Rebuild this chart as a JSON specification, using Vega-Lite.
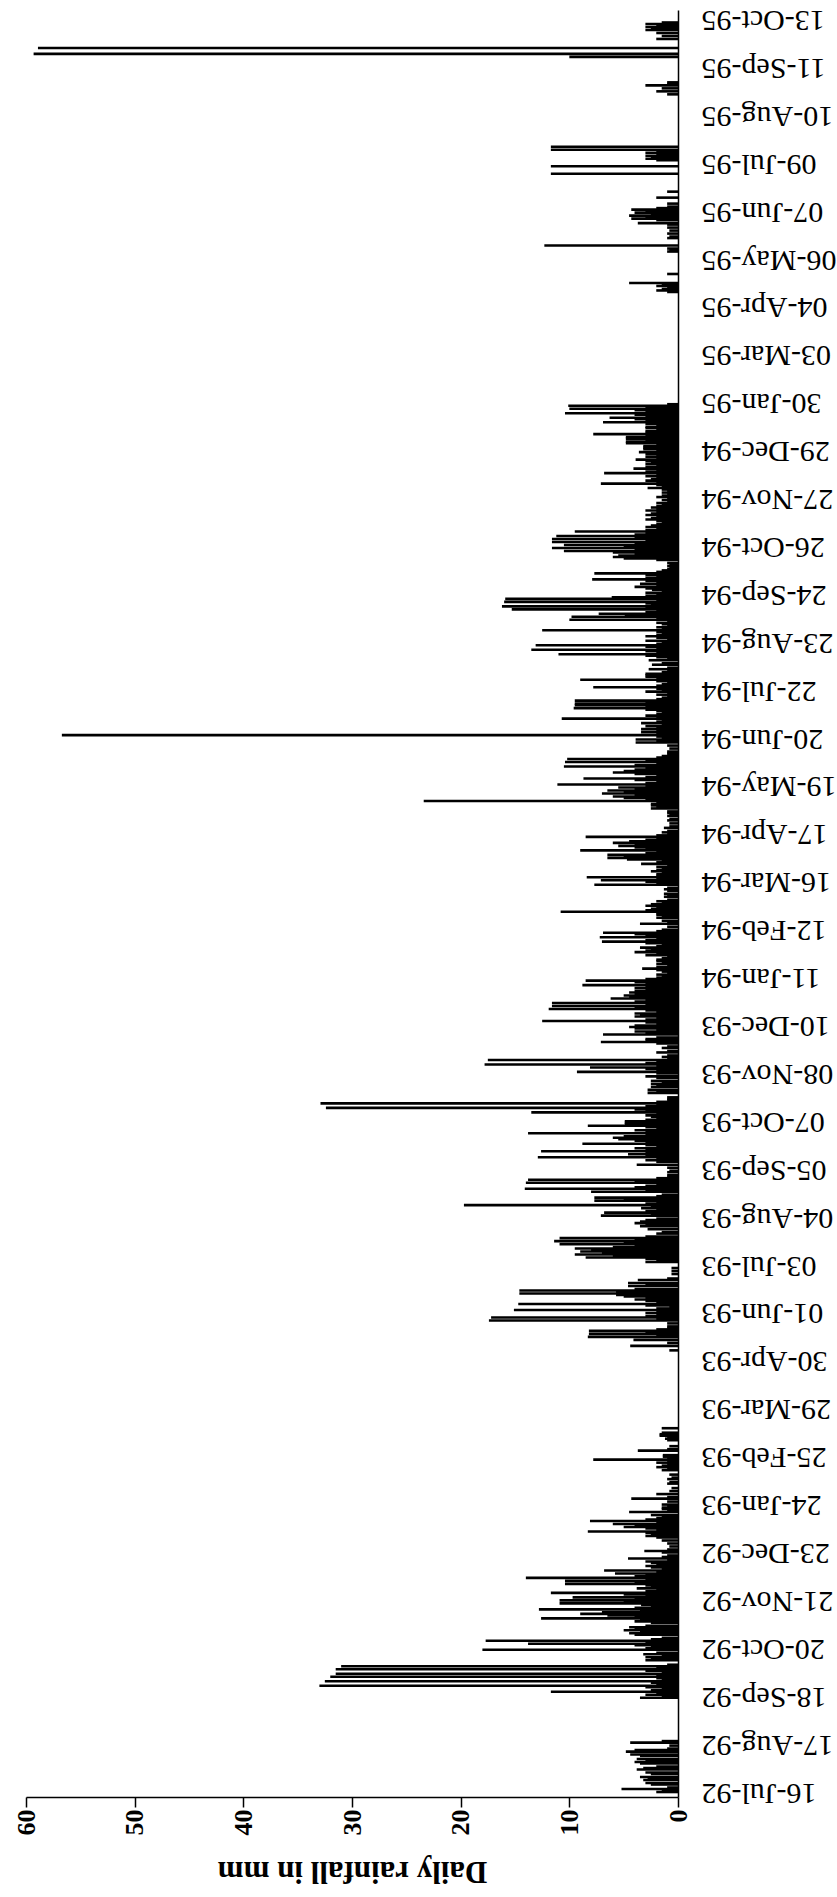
{
"$schema":"https://vega.github.io/schema/vega-lite/v6.json",
"width":652,"height":1787,
"autosize":{"type":"none"},
"padding":{"left":26,"top":10,"right":159,"bottom":100},
"background":"white",
"config":{"view":{"stroke":null},"font":"Liberation Serif"},
"data":{"values":[
{"date":"1992-07-16","rain":2.0},{"date":"1992-07-17","rain":1.5},{"date":"1992-07-18","rain":5.2},{"date":"1992-07-19","rain":1.0},{"date":"1992-07-21","rain":2.5},{"date":"1992-07-22","rain":3.0},{"date":"1992-07-24","rain":3.2},{"date":"1992-07-25","rain":2.8},{"date":"1992-07-26","rain":3.5},{"date":"1992-07-28","rain":2.5},{"date":"1992-07-29","rain":3.0},{"date":"1992-07-31","rain":3.8},
{"date":"1992-08-01","rain":3.2},{"date":"1992-08-02","rain":2.0},{"date":"1992-08-04","rain":3.5},{"date":"1992-08-05","rain":4.0},{"date":"1992-08-06","rain":3.0},{"date":"1992-08-07","rain":3.8},{"date":"1992-08-09","rain":3.5},{"date":"1992-08-10","rain":4.4},{"date":"1992-08-12","rain":4.8},{"date":"1992-08-13","rain":4.0},{"date":"1992-08-14","rain":1.0},{"date":"1992-08-16","rain":0.8},{"date":"1992-08-18","rain":4.4},{"date":"1992-08-19","rain":1.5},
{"date":"1992-09-17","rain":3.5},{"date":"1992-09-18","rain":1.5},{"date":"1992-09-19","rain":3.0},{"date":"1992-09-20","rain":2.0},{"date":"1992-09-21","rain":11.7},{"date":"1992-09-22","rain":2.5},{"date":"1992-09-23","rain":1.5},{"date":"1992-09-24","rain":3.0},{"date":"1992-09-25","rain":33.0},{"date":"1992-09-26","rain":2.0},{"date":"1992-09-27","rain":2.5},{"date":"1992-09-28","rain":32.5},{"date":"1992-09-29","rain":1.5},{"date":"1992-09-30","rain":2.0},
{"date":"1992-10-01","rain":32.0},{"date":"1992-10-02","rain":2.0},{"date":"1992-10-03","rain":31.5},{"date":"1992-10-04","rain":1.5},{"date":"1992-10-05","rain":3.0},{"date":"1992-10-06","rain":31.5},{"date":"1992-10-07","rain":2.0},{"date":"1992-10-08","rain":31.0},{"date":"1992-10-09","rain":1.0},{"date":"1992-10-12","rain":3.0},{"date":"1992-10-13","rain":2.5},{"date":"1992-10-14","rain":3.0},{"date":"1992-10-15","rain":1.5},{"date":"1992-10-16","rain":3.2},{"date":"1992-10-17","rain":2.0},{"date":"1992-10-19","rain":18.0},{"date":"1992-10-20","rain":3.0},{"date":"1992-10-21","rain":2.5},{"date":"1992-10-22","rain":4.0},{"date":"1992-10-23","rain":13.8},{"date":"1992-10-24","rain":3.0},{"date":"1992-10-25","rain":17.7},{"date":"1992-10-26","rain":2.5},{"date":"1992-10-27","rain":1.5},{"date":"1992-10-29","rain":4.0},{"date":"1992-10-30","rain":4.5},{"date":"1992-10-31","rain":3.5},
{"date":"1992-11-01","rain":5.0},{"date":"1992-11-02","rain":4.0},{"date":"1992-11-03","rain":4.5},{"date":"1992-11-04","rain":3.0},{"date":"1992-11-06","rain":2.5},{"date":"1992-11-07","rain":4.0},{"date":"1992-11-08","rain":3.5},{"date":"1992-11-09","rain":12.6},{"date":"1992-11-10","rain":4.0},{"date":"1992-11-11","rain":6.5},{"date":"1992-11-12","rain":9.0},{"date":"1992-11-13","rain":7.0},{"date":"1992-11-14","rain":3.5},{"date":"1992-11-15","rain":12.8},{"date":"1992-11-16","rain":4.0},{"date":"1992-11-17","rain":2.5},{"date":"1992-11-18","rain":3.4},{"date":"1992-11-19","rain":10.9},{"date":"1992-11-20","rain":5.0},{"date":"1992-11-21","rain":10.9},{"date":"1992-11-22","rain":4.0},{"date":"1992-11-23","rain":9.7},{"date":"1992-11-24","rain":3.0},{"date":"1992-11-25","rain":5.0},{"date":"1992-11-26","rain":11.7},{"date":"1992-11-27","rain":3.0},{"date":"1992-11-28","rain":2.0},{"date":"1992-11-29","rain":3.8},{"date":"1992-11-30","rain":2.5},
{"date":"1992-12-01","rain":3.0},{"date":"1992-12-02","rain":10.4},{"date":"1992-12-03","rain":4.0},{"date":"1992-12-04","rain":10.4},{"date":"1992-12-05","rain":3.0},{"date":"1992-12-06","rain":14.0},{"date":"1992-12-07","rain":4.0},{"date":"1992-12-08","rain":3.0},{"date":"1992-12-09","rain":5.8},{"date":"1992-12-10","rain":2.0},{"date":"1992-12-11","rain":6.8},{"date":"1992-12-12","rain":1.5},{"date":"1992-12-13","rain":2.5},{"date":"1992-12-14","rain":3.0},{"date":"1992-12-15","rain":2.0},{"date":"1992-12-16","rain":2.5},{"date":"1992-12-17","rain":3.0},{"date":"1992-12-18","rain":1.0},{"date":"1992-12-19","rain":4.6},{"date":"1992-12-20","rain":1.5},{"date":"1992-12-21","rain":1.0},{"date":"1992-12-23","rain":1.5},{"date":"1992-12-24","rain":3.1},{"date":"1992-12-25","rain":1.0},{"date":"1992-12-27","rain":0.8},{"date":"1992-12-29","rain":1.0},{"date":"1992-12-31","rain":1.5},
{"date":"1993-01-02","rain":2.0},{"date":"1993-01-03","rain":3.0},{"date":"1993-01-04","rain":2.5},{"date":"1993-01-05","rain":3.0},{"date":"1993-01-06","rain":8.3},{"date":"1993-01-07","rain":2.0},{"date":"1993-01-08","rain":3.0},{"date":"1993-01-09","rain":5.0},{"date":"1993-01-10","rain":4.0},{"date":"1993-01-11","rain":6.0},{"date":"1993-01-12","rain":2.0},{"date":"1993-01-13","rain":8.1},{"date":"1993-01-14","rain":3.0},{"date":"1993-01-15","rain":2.0},{"date":"1993-01-16","rain":1.5},{"date":"1993-01-17","rain":2.5},{"date":"1993-01-19","rain":4.5},{"date":"1993-01-20","rain":1.0},{"date":"1993-01-21","rain":1.5},{"date":"1993-01-22","rain":1.5},{"date":"1993-01-23","rain":1.0},{"date":"1993-01-24","rain":1.5},{"date":"1993-01-26","rain":1.0},{"date":"1993-01-28","rain":4.3},{"date":"1993-01-29","rain":1.0},{"date":"1993-01-31","rain":2.0},
{"date":"1993-02-02","rain":0.8},{"date":"1993-02-04","rain":0.6},{"date":"1993-02-07","rain":1.0},{"date":"1993-02-08","rain":0.8},{"date":"1993-02-10","rain":1.0},{"date":"1993-02-11","rain":0.6},{"date":"1993-02-13","rain":0.8},{"date":"1993-02-16","rain":1.5},{"date":"1993-02-17","rain":1.0},{"date":"1993-02-18","rain":2.0},{"date":"1993-02-19","rain":1.5},{"date":"1993-02-20","rain":1.0},{"date":"1993-02-21","rain":2.0},{"date":"1993-02-22","rain":1.0},{"date":"1993-02-23","rain":7.8},{"date":"1993-02-24","rain":1.0},{"date":"1993-02-25","rain":1.4},{"date":"1993-02-26","rain":1.4},
{"date":"1993-03-01","rain":3.7},{"date":"1993-03-02","rain":1.0},{"date":"1993-03-04","rain":0.8},{"date":"1993-03-08","rain":1.0},{"date":"1993-03-09","rain":1.2},{"date":"1993-03-10","rain":1.0},{"date":"1993-03-11","rain":1.7},{"date":"1993-03-12","rain":1.7},{"date":"1993-03-13","rain":1.5},{"date":"1993-03-16","rain":1.5},
{"date":"1993-05-07","rain":0.8},{"date":"1993-05-10","rain":4.4},{"date":"1993-05-12","rain":1.0},{"date":"1993-05-14","rain":4.1},{"date":"1993-05-16","rain":8.3},{"date":"1993-05-17","rain":2.0},{"date":"1993-05-18","rain":8.2},{"date":"1993-05-19","rain":3.0},{"date":"1993-05-20","rain":8.2},{"date":"1993-05-21","rain":2.0},{"date":"1993-05-22","rain":1.0},{"date":"1993-05-23","rain":1.0},{"date":"1993-05-25","rain":1.0},{"date":"1993-05-27","rain":17.4},{"date":"1993-05-28","rain":2.0},{"date":"1993-05-29","rain":17.2},{"date":"1993-05-30","rain":3.0},{"date":"1993-05-31","rain":2.0},
{"date":"1993-06-01","rain":3.0},{"date":"1993-06-02","rain":2.0},{"date":"1993-06-03","rain":15.1},{"date":"1993-06-04","rain":2.0},{"date":"1993-06-05","rain":0.8},{"date":"1993-06-06","rain":3.0},{"date":"1993-06-07","rain":14.7},{"date":"1993-06-08","rain":2.0},{"date":"1993-06-09","rain":3.0},{"date":"1993-06-10","rain":4.0},{"date":"1993-06-11","rain":3.0},{"date":"1993-06-12","rain":5.0},{"date":"1993-06-13","rain":5.7},{"date":"1993-06-14","rain":14.6},{"date":"1993-06-15","rain":5.7},{"date":"1993-06-16","rain":14.6},{"date":"1993-06-17","rain":4.0},{"date":"1993-06-19","rain":4.6},{"date":"1993-06-20","rain":3.0},{"date":"1993-06-21","rain":4.6},{"date":"1993-06-23","rain":3.7},{"date":"1993-06-24","rain":1.0},{"date":"1993-06-27","rain":0.6},{"date":"1993-06-29","rain":0.6},
{"date":"1993-07-01","rain":0.6},{"date":"1993-07-05","rain":3.0},{"date":"1993-07-06","rain":2.0},{"date":"1993-07-07","rain":3.0},{"date":"1993-07-08","rain":8.5},{"date":"1993-07-09","rain":6.0},{"date":"1993-07-10","rain":9.5},{"date":"1993-07-11","rain":7.0},{"date":"1993-07-12","rain":9.0},{"date":"1993-07-13","rain":8.0},{"date":"1993-07-14","rain":9.5},{"date":"1993-07-15","rain":6.0},{"date":"1993-07-16","rain":4.0},{"date":"1993-07-17","rain":10.9},{"date":"1993-07-18","rain":5.0},{"date":"1993-07-19","rain":11.4},{"date":"1993-07-20","rain":4.0},{"date":"1993-07-21","rain":10.9},{"date":"1993-07-22","rain":3.0},{"date":"1993-07-24","rain":2.0},{"date":"1993-07-25","rain":1.5},{"date":"1993-07-27","rain":2.8},{"date":"1993-07-29","rain":3.5},{"date":"1993-07-30","rain":3.0},{"date":"1993-07-31","rain":4.0},
{"date":"1993-08-01","rain":3.5},{"date":"1993-08-02","rain":3.0},{"date":"1993-08-03","rain":2.0},{"date":"1993-08-05","rain":7.1},{"date":"1993-08-06","rain":2.5},{"date":"1993-08-07","rain":6.8},{"date":"1993-08-08","rain":3.0},{"date":"1993-08-09","rain":2.0},{"date":"1993-08-10","rain":3.4},{"date":"1993-08-11","rain":2.5},{"date":"1993-08-12","rain":19.7},{"date":"1993-08-13","rain":3.0},{"date":"1993-08-14","rain":2.0},{"date":"1993-08-15","rain":7.7},{"date":"1993-08-16","rain":5.0},{"date":"1993-08-17","rain":7.7},{"date":"1993-08-18","rain":2.0},{"date":"1993-08-19","rain":1.5},{"date":"1993-08-21","rain":8.0},{"date":"1993-08-22","rain":3.0},{"date":"1993-08-23","rain":14.1},{"date":"1993-08-24","rain":4.0},{"date":"1993-08-25","rain":3.0},{"date":"1993-08-26","rain":2.0},{"date":"1993-08-27","rain":14.0},{"date":"1993-08-28","rain":4.0},{"date":"1993-08-29","rain":13.8},{"date":"1993-08-30","rain":2.0},{"date":"1993-08-31","rain":1.0},
{"date":"1993-09-01","rain":1.0},{"date":"1993-09-03","rain":1.0},{"date":"1993-09-04","rain":0.8},{"date":"1993-09-06","rain":1.0},{"date":"1993-09-08","rain":3.8},{"date":"1993-09-10","rain":2.0},{"date":"1993-09-11","rain":3.0},{"date":"1993-09-12","rain":2.0},{"date":"1993-09-13","rain":12.9},{"date":"1993-09-14","rain":3.0},{"date":"1993-09-15","rain":4.6},{"date":"1993-09-16","rain":3.0},{"date":"1993-09-17","rain":12.6},{"date":"1993-09-18","rain":3.0},{"date":"1993-09-19","rain":4.0},{"date":"1993-09-20","rain":2.0},{"date":"1993-09-21","rain":3.0},{"date":"1993-09-22","rain":8.8},{"date":"1993-09-23","rain":3.0},{"date":"1993-09-24","rain":4.0},{"date":"1993-09-25","rain":5.5},{"date":"1993-09-26","rain":6.0},{"date":"1993-09-27","rain":5.0},{"date":"1993-09-28","rain":3.0},{"date":"1993-09-29","rain":13.8},{"date":"1993-09-30","rain":3.0},
{"date":"1993-10-01","rain":4.0},{"date":"1993-10-02","rain":2.0},{"date":"1993-10-03","rain":3.0},{"date":"1993-10-04","rain":8.3},{"date":"1993-10-05","rain":4.9},{"date":"1993-10-06","rain":4.9},{"date":"1993-10-07","rain":4.9},{"date":"1993-10-08","rain":3.0},{"date":"1993-10-09","rain":2.0},{"date":"1993-10-10","rain":2.5},{"date":"1993-10-11","rain":3.0},{"date":"1993-10-12","rain":2.0},{"date":"1993-10-13","rain":13.5},{"date":"1993-10-14","rain":3.0},{"date":"1993-10-15","rain":4.0},{"date":"1993-10-16","rain":32.4},{"date":"1993-10-17","rain":3.0},{"date":"1993-10-18","rain":2.0},{"date":"1993-10-19","rain":32.9},{"date":"1993-10-20","rain":2.0},{"date":"1993-10-21","rain":1.0},{"date":"1993-10-22","rain":1.0},{"date":"1993-10-23","rain":1.0},{"date":"1993-10-26","rain":2.8},{"date":"1993-10-27","rain":2.0},{"date":"1993-10-28","rain":2.8},{"date":"1993-10-30","rain":2.5},{"date":"1993-10-31","rain":2.0},
{"date":"1993-11-01","rain":2.5},{"date":"1993-11-02","rain":1.5},{"date":"1993-11-03","rain":2.5},{"date":"1993-11-05","rain":2.0},{"date":"1993-11-06","rain":3.0},{"date":"1993-11-08","rain":2.0},{"date":"1993-11-09","rain":9.3},{"date":"1993-11-10","rain":2.0},{"date":"1993-11-11","rain":3.0},{"date":"1993-11-12","rain":8.1},{"date":"1993-11-13","rain":2.0},{"date":"1993-11-14","rain":17.8},{"date":"1993-11-15","rain":3.0},{"date":"1993-11-16","rain":2.0},{"date":"1993-11-17","rain":17.5},{"date":"1993-11-18","rain":1.0},{"date":"1993-11-19","rain":1.5},{"date":"1993-11-20","rain":1.0},{"date":"1993-11-22","rain":2.0},{"date":"1993-11-23","rain":1.0},{"date":"1993-11-25","rain":1.5},{"date":"1993-11-26","rain":1.0},{"date":"1993-11-28","rain":2.0},{"date":"1993-11-29","rain":7.1},{"date":"1993-11-30","rain":3.0},
{"date":"1993-12-01","rain":3.0},{"date":"1993-12-02","rain":2.0},{"date":"1993-12-04","rain":6.9},{"date":"1993-12-05","rain":3.0},{"date":"1993-12-06","rain":4.0},{"date":"1993-12-07","rain":2.0},{"date":"1993-12-08","rain":4.0},{"date":"1993-12-09","rain":4.5},{"date":"1993-12-10","rain":4.0},{"date":"1993-12-11","rain":2.0},{"date":"1993-12-12","rain":3.0},{"date":"1993-12-13","rain":12.5},{"date":"1993-12-14","rain":3.0},{"date":"1993-12-15","rain":2.0},{"date":"1993-12-16","rain":4.0},{"date":"1993-12-17","rain":3.5},{"date":"1993-12-18","rain":4.0},{"date":"1993-12-19","rain":2.0},{"date":"1993-12-20","rain":3.0},{"date":"1993-12-21","rain":11.9},{"date":"1993-12-22","rain":4.0},{"date":"1993-12-23","rain":11.6},{"date":"1993-12-24","rain":3.0},{"date":"1993-12-25","rain":11.6},{"date":"1993-12-26","rain":4.0},{"date":"1993-12-27","rain":3.0},{"date":"1993-12-28","rain":6.2},{"date":"1993-12-29","rain":4.5},{"date":"1993-12-30","rain":5.0},{"date":"1993-12-31","rain":4.0},
{"date":"1994-01-01","rain":4.5},{"date":"1994-01-02","rain":4.0},{"date":"1994-01-03","rain":3.0},{"date":"1994-01-04","rain":4.0},{"date":"1994-01-05","rain":3.0},{"date":"1994-01-06","rain":8.8},{"date":"1994-01-07","rain":3.0},{"date":"1994-01-08","rain":4.0},{"date":"1994-01-09","rain":8.5},{"date":"1994-01-10","rain":3.0},{"date":"1994-01-11","rain":2.0},{"date":"1994-01-12","rain":1.5},{"date":"1994-01-13","rain":2.0},{"date":"1994-01-14","rain":1.0},{"date":"1994-01-15","rain":1.5},{"date":"1994-01-16","rain":2.0},{"date":"1994-01-17","rain":3.3},{"date":"1994-01-18","rain":2.0},{"date":"1994-01-19","rain":1.0},{"date":"1994-01-20","rain":2.0},{"date":"1994-01-21","rain":1.5},{"date":"1994-01-22","rain":2.0},{"date":"1994-01-23","rain":2.0},{"date":"1994-01-24","rain":1.5},{"date":"1994-01-25","rain":1.0},{"date":"1994-01-26","rain":3.0},{"date":"1994-01-27","rain":2.0},{"date":"1994-01-28","rain":4.0},{"date":"1994-01-29","rain":3.0},{"date":"1994-01-30","rain":2.5},{"date":"1994-01-31","rain":3.5},
{"date":"1994-02-01","rain":2.0},{"date":"1994-02-02","rain":1.5},{"date":"1994-02-03","rain":3.0},{"date":"1994-02-04","rain":7.0},{"date":"1994-02-05","rain":3.0},{"date":"1994-02-06","rain":2.0},{"date":"1994-02-07","rain":7.2},{"date":"1994-02-08","rain":3.0},{"date":"1994-02-09","rain":4.0},{"date":"1994-02-10","rain":6.9},{"date":"1994-02-11","rain":2.0},{"date":"1994-02-12","rain":1.5},{"date":"1994-02-14","rain":1.0},{"date":"1994-02-16","rain":3.5},{"date":"1994-02-17","rain":1.0},{"date":"1994-02-18","rain":1.5},{"date":"1994-02-20","rain":2.0},{"date":"1994-02-21","rain":1.5},{"date":"1994-02-22","rain":2.0},{"date":"1994-02-23","rain":2.0},{"date":"1994-02-24","rain":10.8},{"date":"1994-02-25","rain":3.0},{"date":"1994-02-26","rain":2.5},{"date":"1994-02-27","rain":2.0},{"date":"1994-02-28","rain":3.0},
{"date":"1994-03-01","rain":2.5},{"date":"1994-03-02","rain":1.5},{"date":"1994-03-03","rain":2.0},{"date":"1994-03-04","rain":1.0},{"date":"1994-03-06","rain":1.3},{"date":"1994-03-07","rain":1.0},{"date":"1994-03-08","rain":1.3},{"date":"1994-03-10","rain":1.0},{"date":"1994-03-11","rain":1.3},{"date":"1994-03-12","rain":1.0},{"date":"1994-03-14","rain":7.7},{"date":"1994-03-15","rain":2.0},{"date":"1994-03-16","rain":3.0},{"date":"1994-03-17","rain":7.1},{"date":"1994-03-18","rain":2.0},{"date":"1994-03-19","rain":8.4},{"date":"1994-03-20","rain":2.0},{"date":"1994-03-21","rain":2.0},{"date":"1994-03-22","rain":1.5},{"date":"1994-03-23","rain":2.5},{"date":"1994-03-24","rain":2.0},{"date":"1994-03-25","rain":1.5},{"date":"1994-03-26","rain":2.0},{"date":"1994-03-27","rain":1.0},{"date":"1994-03-28","rain":3.4},{"date":"1994-03-29","rain":2.0},{"date":"1994-03-30","rain":1.5},{"date":"1994-03-31","rain":4.7},
{"date":"1994-04-01","rain":6.5},{"date":"1994-04-02","rain":5.0},{"date":"1994-04-03","rain":6.5},{"date":"1994-04-04","rain":3.0},{"date":"1994-04-05","rain":2.0},{"date":"1994-04-06","rain":9.0},{"date":"1994-04-07","rain":3.0},{"date":"1994-04-08","rain":4.0},{"date":"1994-04-09","rain":5.5},{"date":"1994-04-10","rain":4.0},{"date":"1994-04-11","rain":6.0},{"date":"1994-04-12","rain":4.5},{"date":"1994-04-13","rain":3.0},{"date":"1994-04-14","rain":2.0},{"date":"1994-04-15","rain":8.5},{"date":"1994-04-16","rain":2.0},{"date":"1994-04-17","rain":1.0},{"date":"1994-04-18","rain":1.5},{"date":"1994-04-19","rain":1.0},{"date":"1994-04-21","rain":1.3},{"date":"1994-04-22","rain":0.8},{"date":"1994-04-24","rain":0.8},{"date":"1994-04-26","rain":1.0},{"date":"1994-04-27","rain":0.8},{"date":"1994-04-29","rain":1.0},{"date":"1994-04-30","rain":0.8},
{"date":"1994-05-01","rain":1.0},{"date":"1994-05-02","rain":1.0},{"date":"1994-05-04","rain":2.5},{"date":"1994-05-05","rain":2.0},{"date":"1994-05-06","rain":2.5},{"date":"1994-05-07","rain":2.5},{"date":"1994-05-08","rain":2.0},{"date":"1994-05-09","rain":23.4},{"date":"1994-05-10","rain":3.0},{"date":"1994-05-11","rain":5.0},{"date":"1994-05-12","rain":6.0},{"date":"1994-05-13","rain":4.0},{"date":"1994-05-14","rain":7.0},{"date":"1994-05-15","rain":5.0},{"date":"1994-05-16","rain":6.5},{"date":"1994-05-17","rain":4.0},{"date":"1994-05-18","rain":5.5},{"date":"1994-05-19","rain":3.0},{"date":"1994-05-20","rain":11.1},{"date":"1994-05-21","rain":3.0},{"date":"1994-05-22","rain":2.0},{"date":"1994-05-23","rain":4.0},{"date":"1994-05-24","rain":8.7},{"date":"1994-05-25","rain":3.0},{"date":"1994-05-26","rain":2.0},{"date":"1994-05-27","rain":4.0},{"date":"1994-05-28","rain":6.0},{"date":"1994-05-29","rain":5.0},{"date":"1994-05-30","rain":4.0},{"date":"1994-05-31","rain":3.0},
{"date":"1994-06-01","rain":10.5},{"date":"1994-06-02","rain":4.0},{"date":"1994-06-03","rain":2.0},{"date":"1994-06-04","rain":10.4},{"date":"1994-06-05","rain":3.0},{"date":"1994-06-06","rain":10.2},{"date":"1994-06-07","rain":2.0},{"date":"1994-06-08","rain":1.5},{"date":"1994-06-09","rain":1.0},{"date":"1994-06-10","rain":1.0},{"date":"1994-06-11","rain":1.0},{"date":"1994-06-13","rain":0.8},{"date":"1994-06-15","rain":1.0},{"date":"1994-06-17","rain":3.9},{"date":"1994-06-18","rain":2.0},{"date":"1994-06-19","rain":3.9},{"date":"1994-06-20","rain":1.5},{"date":"1994-06-21","rain":2.0},{"date":"1994-06-22","rain":56.7},{"date":"1994-06-23","rain":2.0},{"date":"1994-06-24","rain":3.4},{"date":"1994-06-25","rain":2.0},{"date":"1994-06-26","rain":3.4},{"date":"1994-06-27","rain":2.0},{"date":"1994-06-28","rain":3.0},{"date":"1994-06-29","rain":1.5},{"date":"1994-06-30","rain":3.4},
{"date":"1994-07-01","rain":2.0},{"date":"1994-07-02","rain":1.5},{"date":"1994-07-03","rain":10.7},{"date":"1994-07-04","rain":2.0},{"date":"1994-07-05","rain":3.0},{"date":"1994-07-06","rain":2.0},{"date":"1994-07-07","rain":1.5},{"date":"1994-07-08","rain":2.0},{"date":"1994-07-09","rain":3.0},{"date":"1994-07-10","rain":9.6},{"date":"1994-07-11","rain":3.0},{"date":"1994-07-12","rain":9.5},{"date":"1994-07-13","rain":9.5},{"date":"1994-07-14","rain":3.0},{"date":"1994-07-15","rain":9.5},{"date":"1994-07-16","rain":2.0},{"date":"1994-07-17","rain":1.5},{"date":"1994-07-18","rain":1.0},{"date":"1994-07-19","rain":2.0},{"date":"1994-07-20","rain":1.0},{"date":"1994-07-21","rain":3.0},{"date":"1994-07-22","rain":1.5},{"date":"1994-07-23","rain":2.0},{"date":"1994-07-24","rain":7.8},{"date":"1994-07-25","rain":2.0},{"date":"1994-07-26","rain":1.5},{"date":"1994-07-27","rain":1.0},{"date":"1994-07-28","rain":2.0},{"date":"1994-07-29","rain":9.0},{"date":"1994-07-30","rain":2.0},{"date":"1994-07-31","rain":3.0},
{"date":"1994-08-01","rain":3.0},{"date":"1994-08-02","rain":3.0},{"date":"1994-08-03","rain":1.5},{"date":"1994-08-04","rain":1.0},{"date":"1994-08-05","rain":2.7},{"date":"1994-08-06","rain":1.0},{"date":"1994-08-08","rain":2.4},{"date":"1994-08-09","rain":1.5},{"date":"1994-08-11","rain":2.7},{"date":"1994-08-12","rain":1.0},{"date":"1994-08-13","rain":2.0},{"date":"1994-08-14","rain":3.0},{"date":"1994-08-15","rain":11.0},{"date":"1994-08-16","rain":2.0},{"date":"1994-08-17","rain":3.0},{"date":"1994-08-18","rain":13.5},{"date":"1994-08-19","rain":2.0},{"date":"1994-08-20","rain":3.0},{"date":"1994-08-21","rain":13.1},{"date":"1994-08-22","rain":2.0},{"date":"1994-08-23","rain":1.5},{"date":"1994-08-24","rain":3.0},{"date":"1994-08-25","rain":1.0},{"date":"1994-08-26","rain":2.0},{"date":"1994-08-27","rain":3.0},{"date":"1994-08-28","rain":2.0},{"date":"1994-08-29","rain":1.5},{"date":"1994-08-30","rain":2.0},{"date":"1994-08-31","rain":12.5},
{"date":"1994-09-01","rain":1.5},{"date":"1994-09-02","rain":2.0},{"date":"1994-09-03","rain":1.0},{"date":"1994-09-04","rain":1.5},{"date":"1994-09-05","rain":2.0},{"date":"1994-09-06","rain":1.0},{"date":"1994-09-07","rain":10.0},{"date":"1994-09-08","rain":2.0},{"date":"1994-09-09","rain":9.8},{"date":"1994-09-10","rain":4.9},{"date":"1994-09-11","rain":7.3},{"date":"1994-09-12","rain":3.0},{"date":"1994-09-13","rain":2.0},{"date":"1994-09-14","rain":15.3},{"date":"1994-09-15","rain":3.0},{"date":"1994-09-16","rain":16.2},{"date":"1994-09-17","rain":2.5},{"date":"1994-09-18","rain":3.0},{"date":"1994-09-19","rain":16.0},{"date":"1994-09-20","rain":2.0},{"date":"1994-09-21","rain":15.9},{"date":"1994-09-22","rain":6.1},{"date":"1994-09-23","rain":3.0},{"date":"1994-09-24","rain":2.0},{"date":"1994-09-25","rain":3.0},{"date":"1994-09-26","rain":1.5},{"date":"1994-09-27","rain":2.4},{"date":"1994-09-28","rain":3.0},{"date":"1994-09-29","rain":4.0},{"date":"1994-09-30","rain":2.0},
{"date":"1994-10-01","rain":3.5},{"date":"1994-10-02","rain":2.0},{"date":"1994-10-03","rain":3.0},{"date":"1994-10-04","rain":7.9},{"date":"1994-10-05","rain":3.0},{"date":"1994-10-06","rain":2.0},{"date":"1994-10-07","rain":3.0},{"date":"1994-10-08","rain":7.7},{"date":"1994-10-09","rain":2.0},{"date":"1994-10-10","rain":1.5},{"date":"1994-10-11","rain":1.0},{"date":"1994-10-12","rain":0.8},{"date":"1994-10-13","rain":1.0},{"date":"1994-10-14","rain":0.8},{"date":"1994-10-15","rain":1.0},{"date":"1994-10-17","rain":2.0},{"date":"1994-10-18","rain":5.0},{"date":"1994-10-19","rain":6.0},{"date":"1994-10-20","rain":5.5},{"date":"1994-10-21","rain":4.0},{"date":"1994-10-22","rain":6.0},{"date":"1994-10-23","rain":10.5},{"date":"1994-10-24","rain":4.0},{"date":"1994-10-25","rain":11.6},{"date":"1994-10-26","rain":5.0},{"date":"1994-10-27","rain":10.5},{"date":"1994-10-28","rain":4.0},{"date":"1994-10-29","rain":11.6},{"date":"1994-10-30","rain":3.0},{"date":"1994-10-31","rain":11.6},
{"date":"1994-11-01","rain":4.0},{"date":"1994-11-02","rain":11.2},{"date":"1994-11-03","rain":4.0},{"date":"1994-11-04","rain":3.0},{"date":"1994-11-05","rain":9.5},{"date":"1994-11-06","rain":3.0},{"date":"1994-11-07","rain":2.0},{"date":"1994-11-08","rain":3.0},{"date":"1994-11-09","rain":2.5},{"date":"1994-11-10","rain":2.0},{"date":"1994-11-11","rain":1.5},{"date":"1994-11-12","rain":2.0},{"date":"1994-11-13","rain":3.0},{"date":"1994-11-14","rain":2.5},{"date":"1994-11-15","rain":2.0},{"date":"1994-11-16","rain":3.0},{"date":"1994-11-17","rain":2.5},{"date":"1994-11-18","rain":2.0},{"date":"1994-11-19","rain":3.0},{"date":"1994-11-20","rain":2.0},{"date":"1994-11-21","rain":2.5},{"date":"1994-11-22","rain":2.0},{"date":"1994-11-23","rain":1.5},{"date":"1994-11-24","rain":2.0},{"date":"1994-11-25","rain":1.0},{"date":"1994-11-26","rain":1.5},{"date":"1994-11-27","rain":1.0},{"date":"1994-11-28","rain":2.0},{"date":"1994-11-29","rain":1.5},{"date":"1994-11-30","rain":1.0},
{"date":"1994-12-01","rain":1.5},{"date":"1994-12-02","rain":1.0},{"date":"1994-12-03","rain":1.5},{"date":"1994-12-04","rain":2.8},{"date":"1994-12-05","rain":1.5},{"date":"1994-12-06","rain":2.0},{"date":"1994-12-07","rain":7.1},{"date":"1994-12-08","rain":2.0},{"date":"1994-12-09","rain":3.0},{"date":"1994-12-10","rain":2.5},{"date":"1994-12-11","rain":2.0},{"date":"1994-12-12","rain":3.0},{"date":"1994-12-13","rain":2.0},{"date":"1994-12-14","rain":6.8},{"date":"1994-12-15","rain":3.0},{"date":"1994-12-16","rain":2.0},{"date":"1994-12-17","rain":4.1},{"date":"1994-12-18","rain":3.0},{"date":"1994-12-19","rain":2.0},{"date":"1994-12-20","rain":3.0},{"date":"1994-12-21","rain":2.5},{"date":"1994-12-22","rain":3.0},{"date":"1994-12-23","rain":3.9},{"date":"1994-12-24","rain":2.0},{"date":"1994-12-25","rain":3.0},{"date":"1994-12-26","rain":2.0},{"date":"1994-12-27","rain":3.0},{"date":"1994-12-28","rain":3.6},{"date":"1994-12-29","rain":2.0},{"date":"1994-12-30","rain":3.2},{"date":"1994-12-31","rain":3.2},
{"date":"1995-01-01","rain":3.2},{"date":"1995-01-02","rain":2.0},{"date":"1995-01-03","rain":4.8},{"date":"1995-01-04","rain":4.8},{"date":"1995-01-05","rain":3.0},{"date":"1995-01-06","rain":4.8},{"date":"1995-01-07","rain":4.8},{"date":"1995-01-08","rain":3.0},{"date":"1995-01-09","rain":7.8},{"date":"1995-01-10","rain":3.0},{"date":"1995-01-11","rain":3.0},{"date":"1995-01-12","rain":2.0},{"date":"1995-01-13","rain":3.0},{"date":"1995-01-14","rain":3.0},{"date":"1995-01-15","rain":2.0},{"date":"1995-01-16","rain":3.0},{"date":"1995-01-17","rain":6.9},{"date":"1995-01-18","rain":3.0},{"date":"1995-01-19","rain":4.0},{"date":"1995-01-20","rain":6.3},{"date":"1995-01-21","rain":3.0},{"date":"1995-01-22","rain":4.0},{"date":"1995-01-23","rain":10.4},{"date":"1995-01-24","rain":3.0},{"date":"1995-01-25","rain":4.0},{"date":"1995-01-26","rain":10.0},{"date":"1995-01-27","rain":3.0},{"date":"1995-01-28","rain":10.1},{"date":"1995-01-29","rain":1.0},
{"date":"1995-04-14","rain":1.0},{"date":"1995-04-15","rain":2.0},{"date":"1995-04-16","rain":1.5},{"date":"1995-04-17","rain":1.0},{"date":"1995-04-18","rain":2.0},{"date":"1995-04-19","rain":1.5},{"date":"1995-04-20","rain":4.5},{"date":"1995-04-26","rain":1.0},
{"date":"1995-05-11","rain":1.0},{"date":"1995-05-12","rain":0.8},{"date":"1995-05-13","rain":1.0},{"date":"1995-05-15","rain":12.3},{"date":"1995-05-20","rain":1.0},{"date":"1995-05-21","rain":0.8},{"date":"1995-05-23","rain":1.0},{"date":"1995-05-25","rain":0.8},{"date":"1995-05-27","rain":1.0},{"date":"1995-05-29","rain":1.0},{"date":"1995-05-30","rain":3.7},
{"date":"1995-06-01","rain":2.0},{"date":"1995-06-02","rain":4.3},{"date":"1995-06-03","rain":3.0},{"date":"1995-06-04","rain":4.5},{"date":"1995-06-05","rain":2.5},{"date":"1995-06-06","rain":4.0},{"date":"1995-06-07","rain":3.0},{"date":"1995-06-08","rain":4.3},{"date":"1995-06-09","rain":2.0},{"date":"1995-06-10","rain":1.0},{"date":"1995-06-12","rain":1.0},{"date":"1995-06-16","rain":2.0},{"date":"1995-06-20","rain":1.0},
{"date":"1995-07-02","rain":11.7},{"date":"1995-07-07","rain":11.7},{"date":"1995-07-11","rain":2.0},{"date":"1995-07-12","rain":3.0},{"date":"1995-07-13","rain":2.5},{"date":"1995-07-14","rain":3.0},{"date":"1995-07-15","rain":2.0},{"date":"1995-07-16","rain":3.0},{"date":"1995-07-17","rain":2.0},{"date":"1995-07-18","rain":11.7},{"date":"1995-07-20","rain":11.7},
{"date":"1995-08-24","rain":1.0},{"date":"1995-08-26","rain":2.0},{"date":"1995-08-28","rain":1.5},{"date":"1995-08-30","rain":3.0},{"date":"1995-08-31","rain":1.0},
{"date":"1995-09-01","rain":1.0},{"date":"1995-09-18","rain":10.0},{"date":"1995-09-20","rain":59.3},{"date":"1995-09-24","rain":58.9},{"date":"1995-09-30","rain":2.0},
{"date":"1995-10-02","rain":1.5},{"date":"1995-10-04","rain":2.0},{"date":"1995-10-06","rain":3.0},{"date":"1995-10-07","rain":2.5},{"date":"1995-10-08","rain":3.0},{"date":"1995-10-09","rain":2.0},{"date":"1995-10-10","rain":3.0},{"date":"1995-10-11","rain":1.5}
]},
"mark":{"type":"bar","color":"black","size":2.6},
"encoding":{
"y":{"field":"date","type":"temporal",
 "scale":{"domain":[{"year":1992,"month":7,"date":16,"utc":true},{"year":1995,"month":10,"date":16,"utc":true}]},
 "axis":{"orient":"right","title":null,"grid":false,"ticks":false,"labelPadding":23,
  "values":[{"year":1992,"month":7,"date":16,"utc":true},{"year":1992,"month":8,"date":17,"utc":true},{"year":1992,"month":9,"date":18,"utc":true},{"year":1992,"month":10,"date":20,"utc":true},{"year":1992,"month":11,"date":21,"utc":true},{"year":1992,"month":12,"date":23,"utc":true},{"year":1993,"month":1,"date":24,"utc":true},{"year":1993,"month":2,"date":25,"utc":true},{"year":1993,"month":3,"date":29,"utc":true},{"year":1993,"month":4,"date":30,"utc":true},{"year":1993,"month":6,"date":1,"utc":true},{"year":1993,"month":7,"date":3,"utc":true},{"year":1993,"month":8,"date":4,"utc":true},{"year":1993,"month":9,"date":5,"utc":true},{"year":1993,"month":10,"date":7,"utc":true},{"year":1993,"month":11,"date":8,"utc":true},{"year":1993,"month":12,"date":10,"utc":true},{"year":1994,"month":1,"date":11,"utc":true},{"year":1994,"month":2,"date":12,"utc":true},{"year":1994,"month":3,"date":16,"utc":true},{"year":1994,"month":4,"date":17,"utc":true},{"year":1994,"month":5,"date":19,"utc":true},{"year":1994,"month":6,"date":20,"utc":true},{"year":1994,"month":7,"date":22,"utc":true},{"year":1994,"month":8,"date":23,"utc":true},{"year":1994,"month":9,"date":24,"utc":true},{"year":1994,"month":10,"date":26,"utc":true},{"year":1994,"month":11,"date":27,"utc":true},{"year":1994,"month":12,"date":29,"utc":true},{"year":1995,"month":1,"date":30,"utc":true},{"year":1995,"month":3,"date":3,"utc":true},{"year":1995,"month":4,"date":4,"utc":true},{"year":1995,"month":5,"date":6,"utc":true},{"year":1995,"month":6,"date":7,"utc":true},{"year":1995,"month":7,"date":9,"utc":true},{"year":1995,"month":8,"date":10,"utc":true},{"year":1995,"month":9,"date":11,"utc":true},{"year":1995,"month":10,"date":13,"utc":true}],
  "labelExpr":"utcFormat(datum.value, '%d-%b-%y')","labelAngle":180,"labelAlign":"right","labelBaseline":"middle",
  "labelFont":"Liberation Serif","labelFontSize":30,"labelColor":"black","labelOverlap":false,"labelFlush":false,"labelBound":false,"labelLimit":300,
  "domainColor":"black","domainWidth":1.5}},
"x":{"field":"rain","type":"quantitative",
 "scale":{"domain":[0,60],"reverse":true,"nice":false},
 "axis":{"orient":"bottom","values":[0,10,20,30,40,50,60],"grid":false,"tickSize":10,"tickColor":"black","tickWidth":1.5,
  "domainColor":"black","domainWidth":1.5,
  "labelAngle":270,"labelAlign":"right","labelBaseline":"middle","labelPadding":2,
  "labelFont":"Liberation Serif","labelFontWeight":"bold","labelFontSize":26,"labelColor":"black","labelFlush":false,"labelOverlap":false,
  "title":"Daily rainfall in mm","titleAngle":180,"titleFont":"Liberation Serif","titleFontWeight":"bold","titleFontSize":31,"titleColor":"black","titlePadding":50}}
}
}
